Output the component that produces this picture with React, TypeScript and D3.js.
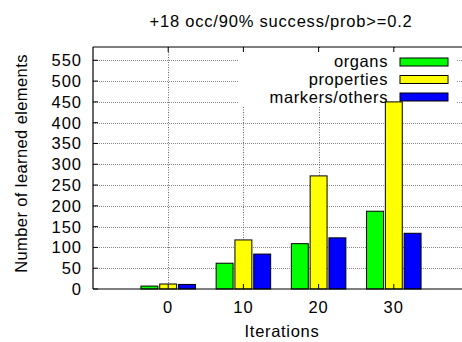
import React from "react";
import * as d3 from "d3";

const iterations = [0, 10, 20, 30];
const seriesNames = ["organs", "properties", "markers/others"];
const organs = [7, 62, 109, 187];
const properties = [12, 118, 272, 450];
const markers = [11, 84, 123, 134];
const yTicks = [0, 50, 100, 150, 200, 250, 300, 350, 400, 450, 500, 550];
const xTicks = [0, 10, 20, 30];
const colors = ["#00ff00", "#ffff00", "#0000ff"];

const W = 462;
const H = 342;
const font = "'Liberation Sans', Arial, Helvetica, sans-serif";
const FS = 16.5;

export default function App() {
  const x = d3.scaleLinear().domain([-10, 40]).range([93, 469]);
  const y = d3.scaleLinear().domain([0, 582]).range([289, 47]);
  const series = [organs, properties, markers];
  const offset = 2.5;
  const bw = 2.25;
  const left = x(-10);
  const right = W + 5;
  const top = y(582);
  const bottom = y(0);
  const keyBox = { x0: 238, x1: 456, y0: 48, y1: 106 };

  return (
    <svg
      width={W}
      height={H}
      style={{ position: "absolute", left: 0, top: 0, background: "#fff" }}
      fontFamily={font}
    >
      <rect x={0} y={0} width={W} height={H} fill="#fff" />
      {/* grid */}
      {yTicks.filter((t) => t > 0).map((t) => (
        <line
          key={"gy" + t}
          x1={left}
          x2={right}
          y1={Math.round(y(t)) + 0.5}
          y2={Math.round(y(t)) + 0.5}
          stroke="#888"
          strokeWidth={1}
          strokeDasharray="1,1"
        />
      ))}
      {xTicks.map((t) => (
        <line
          key={"gx" + t}
          x1={Math.round(x(t)) + 0.5}
          x2={Math.round(x(t)) + 0.5}
          y1={top}
          y2={bottom}
          stroke="#666"
          strokeWidth={1}
          strokeDasharray="1,1.5"
        />
      ))}
      {/* opaque key background */}
      <rect
        x={keyBox.x0}
        y={keyBox.y0}
        width={keyBox.x1 - keyBox.x0}
        height={keyBox.y1 - keyBox.y0}
        fill="#fff"
      />
      {/* bars */}
      {series.map((vals, si) =>
        vals.map((v, i) => {
          const cx = iterations[i] + (si - 1) * offset;
          const x0 = x(cx - bw / 2);
          const x1 = x(cx + bw / 2);
          return (
            <rect
              key={si + "-" + i}
              x={x0}
              y={y(v)}
              width={x1 - x0}
              height={y(0) - y(v)}
              fill={colors[si]}
              stroke="#000"
              strokeWidth={1}
            />
          );
        })
      )}
      {/* frame */}
      <line x1={left} x2={left} y1={top} y2={bottom} stroke="#000" strokeWidth={1.2} />
      <line x1={left} x2={right} y1={top} y2={top} stroke="#000" strokeWidth={1.2} />
      <line x1={left} x2={right} y1={bottom} y2={bottom} stroke="#000" strokeWidth={1.2} />
      {/* ticks */}
      {yTicks.map((t) => (
        <g key={"ty" + t}>
          <line x1={left} x2={left + 5} y1={y(t)} y2={y(t)} stroke="#000" />
          <text
            x={82}
            y={y(t)}
            dy="0.36em"
            textAnchor="end"
            fontSize={FS}
            letterSpacing={1}
            fill="#000"
          >
            {t}
          </text>
        </g>
      ))}
      {xTicks.map((t) => (
        <g key={"tx" + t}>
          <line x1={x(t)} x2={x(t)} y1={top} y2={top + 5} stroke="#000" />
          <line x1={x(t)} x2={x(t)} y1={bottom} y2={bottom - 5} stroke="#000" />
          <text x={x(t)} y={313} textAnchor="middle" fontSize={FS} letterSpacing={1} fill="#000">
            {t}
          </text>
        </g>
      ))}
      {/* legend */}
      {seriesNames.map((n, i) => (
        <g key={"k" + n}>
          <text x={388} y={67 + i * 18} textAnchor="end" fontSize={FS} letterSpacing={0.6} fill="#000">
            {n}
          </text>
          <rect
            x={400}
            y={58 + i * 17.5}
            width={48}
            height={8}
            fill={colors[i]}
            stroke="#000"
            strokeWidth={1}
          />
        </g>
      ))}
      {/* titles */}
      <text x={281} y={27} textAnchor="middle" fontSize={FS} letterSpacing={0.8} fill="#000">
        +18 occ/90% success/prob&gt;=0.2
      </text>
      <text x={282} y={337} textAnchor="middle" fontSize={FS} letterSpacing={0.7} fill="#000">
        Iterations
      </text>
      <text
        transform={`translate(27,163.5) rotate(-90)`}
        textAnchor="middle"
        fontSize={FS}
        letterSpacing={0.4}
        fill="#000"
      >
        Number of learned elements
      </text>
    </svg>
  );
}
